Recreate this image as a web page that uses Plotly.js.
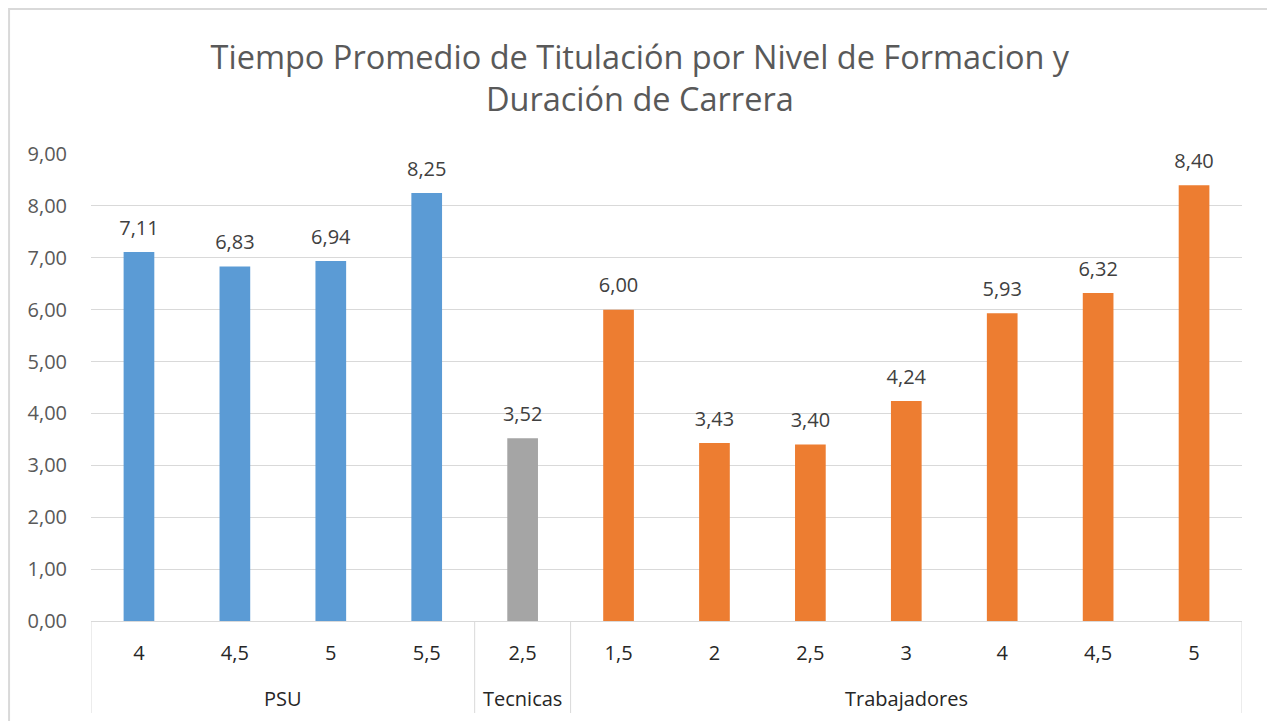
<!DOCTYPE html>
<html>
<head>
<meta charset="utf-8">
<script src="https://cdn.plot.ly/plotly-3.0.1.min.js"></script>
<style>
html,body{margin:0;padding:0;background:#fff;}
#chart{width:1267px;height:721px;}
</style>
</head>
<body>
<div id="chart"></div>
<script>
const groups = ["PSU","PSU","PSU","PSU","Tecnicas","Trabajadores","Trabajadores","Trabajadores","Trabajadores","Trabajadores","Trabajadores","Trabajadores"];
const durations = ["4","4,5","5","5,5","2,5","1,5","2","2,5","3","4","4,5","5"];
const values = [7.11,6.83,6.94,8.25,3.52,6.00,3.43,3.40,4.24,5.93,6.32,8.40];
const yTicks = [0,1,2,3,4,5,6,7,8,9];

const groupColors = {"PSU":"#5B9BD5","Tecnicas":"#A5A5A5","Trabajadores":"#ED7D31"};
const FONT = "'Open Sans', 'Noto Sans', sans-serif";

// unique category keys, shown with the duration text
const keys = groups.map((g, i) => g + ' ' + durations[i]);

// group spans (first / last category index)
const groupNames = [];
const spans = {};
groups.forEach((g, i) => {
  if (!(g in spans)) { spans[g] = [i, i]; groupNames.push(g); }
  spans[g][1] = i;
});

const bars = {
  type: 'bar',
  x: keys,
  y: values,
  marker: {color: groups.map(g => groupColors[g])},
  hoverinfo: 'y'
};
const labels = {
  type: 'scatter',
  mode: 'markers+text',
  x: keys,
  y: values,
  text: values.map(v => v.toFixed(2).replace('.', ',')),
  textposition: 'top center',
  textfont: {family: FONT, size: 20, color: '#404040'},
  marker: {size: 18, opacity: 0},
  hoverinfo: 'skip',
  cliponaxis: false
};

const AXIS_BOTTOM = 100, PLOT_H = 467;
const shapes = [{
  type: 'rect', xref: 'paper', yref: 'paper', layer: 'below',
  x0: (9 - 91) / 1152, x1: (1290 - 91) / 1152,
  y0: (621 - 740) / PLOT_H, y1: (621 - 9) / PLOT_H,
  line: {color: '#d9d9d9', width: 2}, fillcolor: 'rgba(0,0,0,0)'
}];
const bounds = [spans[groupNames[0]][0] - 0.5].concat(groupNames.map(g => spans[g][1] + 0.5));
bounds.forEach(b => shapes.push({
  type: 'line', xref: 'x', yref: 'paper',
  x0: b, x1: b, y0: 0, y1: -92 / PLOT_H,
  line: {color: '#d9d9d9', width: 1}
}));
const annotations = groupNames.map(g => ({
  text: g, xref: 'x', yref: 'paper',
  x: (spans[g][0] + spans[g][1]) / 2, y: -77 / PLOT_H,
  xanchor: 'center', yanchor: 'middle', showarrow: false,
  font: {family: FONT, size: 20, color: '#262626'}
}));

const layout = {
  width: 1267, height: 721,
  paper_bgcolor: '#fff', plot_bgcolor: '#fff',
  separators: ',.',
  showlegend: false,
  bargap: 0.68,
  margin: {l: 91, r: 25, t: 154, b: AXIS_BOTTOM},
  font: {family: FONT, color: '#404040'},
  title: {
    text: 'Tiempo Promedio de Titulación por Nivel de Formacion y<br>Duración de Carrera',
    font: {family: FONT, size: 32.5, color: '#595959'},
    xref: 'container', x: 0.505, xanchor: 'center',
    yref: 'container', y: 1 - 69/721, yanchor: 'middle'
  },
  xaxis: {
    type: 'category',
    range: [-0.5, keys.length - 0.5],
    tickvals: keys, ticktext: durations,
    showline: true, linecolor: '#d9d9d9', linewidth: 1,
    showgrid: false, ticks: '', tickangle: 0,
    tickfont: {family: FONT, size: 20, color: '#262626'},
    ticklabelstandoff: 14,
    fixedrange: true
  },
  yaxis: {
    range: [0, 9],
    tickvals: yTicks,
    tickformat: '.2f',
    showgrid: true, gridcolor: '#d9d9d9', gridwidth: 1,
    zeroline: false, showline: false, ticks: '',
    tickfont: {family: FONT, size: 20, color: '#595959'},
    ticklabelstandoff: 23,
    fixedrange: true
  },
  shapes: shapes,
  annotations: annotations
};

Plotly.newPlot('chart', [bars, labels], layout, {displayModeBar: false, staticPlot: true});
</script>
</body>
</html>
